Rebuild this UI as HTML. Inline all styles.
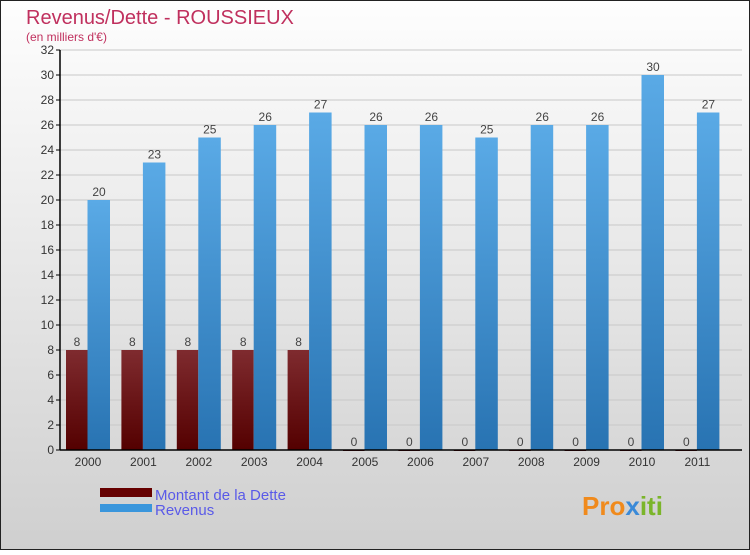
<!DOCTYPE html>
<html><head><meta charset="utf-8"><style>
body{margin:0;width:750px;height:550px;overflow:hidden;font-family:"Liberation Sans",sans-serif}
</style></head><body>
<svg width="750" height="550" xmlns="http://www.w3.org/2000/svg">
<defs>
<linearGradient id="bg" x1="0" y1="0" x2="0" y2="1"><stop offset="0" stop-color="#fefefe"/><stop offset="1" stop-color="#cfcfcf"/></linearGradient>
<linearGradient id="gd" x1="0" y1="0" x2="0" y2="1"><stop offset="0" stop-color="#7f2b2f"/><stop offset="1" stop-color="#540000"/></linearGradient>
<linearGradient id="gr" x1="0" y1="0" x2="0" y2="1"><stop offset="0" stop-color="#5aaae6"/><stop offset="1" stop-color="#2873b2"/></linearGradient>
</defs>
<rect x="0.5" y="0.5" width="749" height="549" fill="url(#bg)" stroke="#222"/>
<text x="26" y="24" font-size="20" fill="#c0305e">Revenus/Dette - ROUSSIEUX</text>
<text x="26" y="41" font-size="12" fill="#c0305e">(en milliers d'€)</text>
<g id="plot"></g>
<g>
<rect x="100" y="488" width="52" height="9" fill="#660000"/>
<text x="155" y="500" font-size="15" fill="#5a5ae8">Montant de la Dette</text>
<rect x="100" y="504" width="52" height="8" fill="#3a96dc"/>
<text x="155" y="515" font-size="15" fill="#5a5ae8">Revenus</text>
</g>
<text x="582" y="515" font-size="26" font-weight="bold" fill="#f08a1c">Pro<tspan fill="#3a8ad8">x</tspan><tspan fill="#7bb52a">iti</tspan></text>
</svg>
<script>
const years=["2000","2001","2002","2003","2004","2005","2006","2007","2008","2009","2010","2011"];
const dette=[8,8,8,8,8,0,0,0,0,0,0,0];
const revenus=[20,23,25,26,27,26,26,25,26,26,30,27];
const yTicks=[0,2,4,6,8,10,12,14,16,18,20,22,24,26,28,30,32];
const NS="http://www.w3.org/2000/svg";
const g=document.getElementById('plot');
const y=v=>450-v*12.5;
const gx=i=>88+i*55.4;
function mk(t,a){const e=document.createElementNS(NS,t);for(const k in a)e.setAttribute(k,a[k]);g.appendChild(e);return e;}
yTicks.forEach(v=>{
  const l=mk('line',{x1:56,x2:742,y1:y(v),y2:y(v),stroke:'#c8c8c8','stroke-dasharray':'0'});
  
  
  const tk=mk('line',{x1:56,x2:60,y1:y(v),y2:y(v),stroke:'#000'});
  
  
  const t=mk('text',{x:54,y:y(v)+4,'font-size':12,'text-anchor':'end',fill:'#333'});
  t.textContent=v;
  
  
});
years.forEach((yr,i)=>{
  const c=gx(i);
  const b1=mk('rect',{x:c-22,y:y(dette[i]),width:21.5,height:Math.max(dette[i]*12.5,1),fill:'url(#gd)'});
  
  
  const b2=mk('rect',{x:c-0.5,y:y(revenus[i]),width:22.5,height:revenus[i]*12.5,fill:'url(#gr)'});
  
  
  const t1=mk('text',{x:c-11,y:y(dette[i])-4,'font-size':12,'text-anchor':'middle',fill:'#444'});
  t1.textContent=dette[i];
  
  
  const t2=mk('text',{x:c+11,y:y(revenus[i])-4,'font-size':12,'text-anchor':'middle',fill:'#444'});
  t2.textContent=revenus[i];
  
  
  const xl=mk('text',{x:c,y:466,'font-size':12,'text-anchor':'middle',fill:'#333'});
  xl.textContent=yr;
  
  
});
const ax=mk('line',{x1:60,x2:60,y1:50,y2:450,stroke:'#000','stroke-width':1.5});


const xa=mk('line',{x1:60,x2:742,y1:450,y2:450,stroke:'#000','stroke-width':1.5});


</script>
</body></html>
